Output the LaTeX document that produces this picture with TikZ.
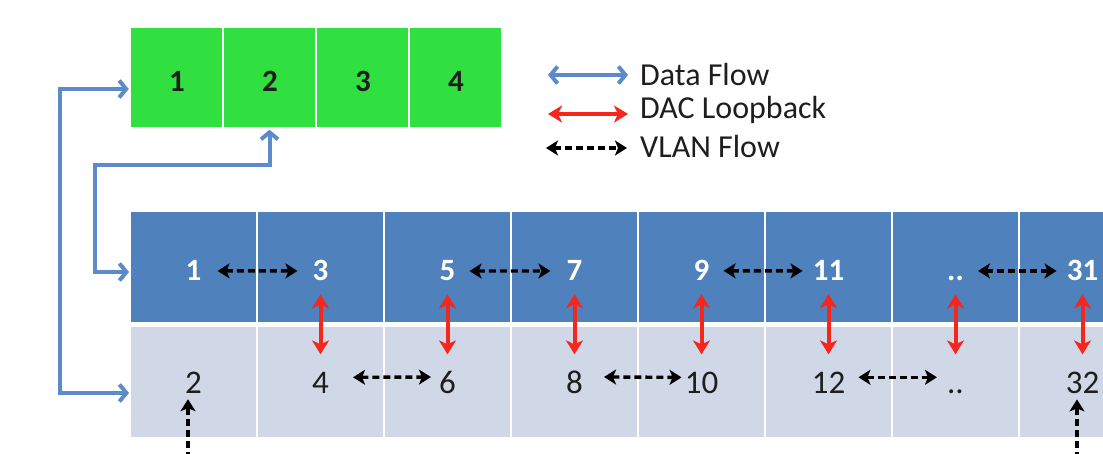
\documentclass[tikz,border=0pt]{standalone}
\usepackage{fontspec}
\setmainfont{Carlito}
\usetikzlibrary{arrows.meta}
\definecolor{gr}{HTML}{30E040}
\definecolor{dblue}{HTML}{4F81BD}
\definecolor{lblue}{HTML}{D0D8E8}
\definecolor{ablue}{HTML}{5B8BCC}
\definecolor{ared}{HTML}{F5261C}
\definecolor{txt}{HTML}{1E1E1E}
\begin{document}
\begin{tikzpicture}[x=1pt,y=-1pt,
  gcell/.style={fill=gr, draw=white, line width=2.5pt, minimum width=93pt, minimum height=102pt, inner sep=0pt},
  tcell/.style={fill=dblue, draw=white, line width=2pt, minimum width=127pt, minimum height=112pt, inner sep=0pt},
  bcell/.style={fill=lblue, draw=white, line width=2pt, minimum width=127pt, minimum height=112pt, inner sep=0pt},
  gnum/.style={anchor=base, inner sep=0pt, text=txt, font=\fontsize{31}{31}\selectfont\bfseries},
  tnum/.style={anchor=base, inner sep=0pt, text=white, font=\fontsize{31}{31}\selectfont\bfseries},
  bnum/.style={anchor=base, inner sep=0pt, text=txt, font=\fontsize{33}{33}\selectfont},
  legtext/.style={anchor=base west, inner sep=0pt, text=txt, font=\fontsize{32}{32}\selectfont},
  dataflow/.style={draw=ablue, line width=4pt, {Straight Barb[length=7pt,width=17pt]}-{Straight Barb[length=7pt,width=17pt]}},
  dacloop/.style={draw=ared, line width=4pt, {Stealth[length=14pt,width=17pt,inset=4pt]}-{Stealth[length=14pt,width=17pt,inset=4pt]}},
  vlan/.style={draw=black, line width=3.4pt, dash pattern=on 7pt off 4pt, {Stealth[length=12pt,width=15pt,inset=3pt]}-{Stealth[length=12pt,width=15pt,inset=3pt]}},
  vlanone/.style={draw=black, line width=3.4pt, dash pattern=on 7pt off 4pt, -{Stealth[length=12pt,width=15pt,inset=3pt]}}
]
\useasboundingbox (0,0) rectangle (1103,454);
\clip (0,0) rectangle (1103,454);
\fill[white] (0,0) rectangle (1103,454);

% green switch
\foreach \i in {0,...,3} \node[gcell] (gc\i) at (176.5+93*\i, 77.5) {};
\foreach \i/\t in {0/1,1/2,2/3,3/4} \node[gnum] (gn\i) at (177+93*\i, 92) {\t};

% blue rows
\foreach \i in {0,...,7} \node[tcell] (tc\i) at (193.5+127*\i, 267.5) {};
\foreach \i in {0,...,7} \node[bcell] (bc\i) at (193.5+127*\i, 382) {};
\foreach \i/\t in {0/1,1/3,2/5,3/7,4/9,5/11,6/{..},7/31} \node[tnum] (tn\i) at (193.5+127*\i, 281) {\t};
\foreach \i/\t in {0/2,1/4,2/6,3/8,4/10,5/12,6/{..},7/32} \node[bnum] (bn\i) at (193.5+127*\i, 393) {\t};

% data flow arrows
\draw[dataflow] ([yshift=-11pt]bc0.west) -- ++(-69,0) |- ([yshift=-11.5pt]gc0.west);
\draw[dataflow] ([yshift=-4.5pt]tc0.west) -- ++(-34,0) -- ++(0,-107) -| (gc1.south);

% VLAN flow, top row
\draw[vlan, shorten <=16pt, shorten >=15pt] (tn0.east) -- (tn1.west);
\draw[vlan, shorten <=14pt, shorten >=16pt] (tn2.east) -- (tn3.west);
\draw[vlan, shorten <=14pt, shorten >=10pt] (tn4.east) -- (tn5.west);
\draw[vlan, shorten <=14pt, shorten >=10pt] (tn6.east |- tn7.west) -- (tn7.west);

% VLAN flow, bottom row
\draw[vlan, shorten <=24pt, shorten >=8pt] ([yshift=5pt]bn1.east) -- ([yshift=5pt]bn2.west);
\draw[vlan, shorten <=21pt, shorten >=3pt] ([yshift=5pt]bn3.east) -- ([yshift=5pt]bn4.west);
\draw[vlan, shorten <=13pt, shorten >=10pt] ([yshift=5pt]bn5.east) -- ([yshift=5pt]bn5.east -| bn6.west);

% DAC loopback
\foreach \i in {1,...,7}
  \draw[dacloop, shorten <=13pt, shorten >=17pt] (tn\i.south) -- (tn\i.south |- bn5.north);

% VLAN inputs from below
\coordinate (vin0) at (188,470);
\coordinate (vin1) at (1077,470);
\draw[vlanone, shorten >=6pt] (vin0) -- (vin0 |- bn0.south);
\draw[vlanone, shorten >=6pt] (vin1) -- (vin1 |- bn7.south);

% legend
\coordinate (l1a) at (548,75);  \coordinate (l1b) at (628,75);
\coordinate (l2a) at (548,114); \coordinate (l2b) at (628,114);
\coordinate (l3a) at (546,148); \coordinate (l3b) at (627,148);
\draw[dataflow] (l1a) -- (l1b);
\draw[dacloop] (l2a) -- (l2b);
\draw[vlan] (l3a) -- (l3b);
\node[legtext] (lt1) at (640,86) {Data Flow};
\node[legtext] (lt2) at (640,119) {DAC Loopback};
\node[legtext] (lt3) at (640,158) {VLAN Flow};
\end{tikzpicture}
\end{document}
